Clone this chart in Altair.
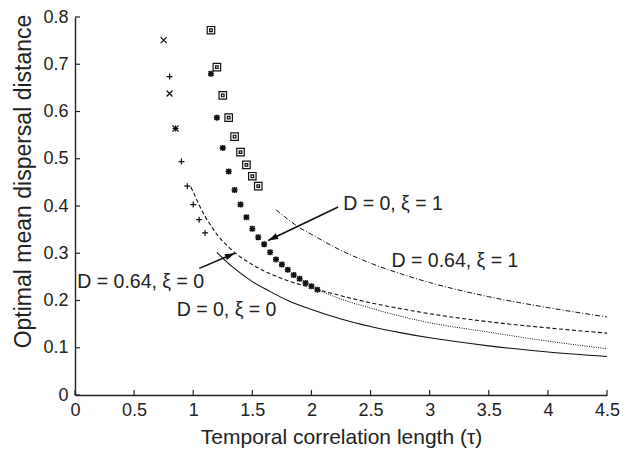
import math
import altair as alt
import pandas as pd

# ---------------- data ----------------
cross_tau = [0.75, 0.80, 0.85]
cross_val = [0.751, 0.638, 0.564]

plus_tau = [0.80, 0.85, 0.90, 0.95, 1.00, 1.05, 1.10]
plus_val = [0.674, 0.564, 0.494, 0.442, 0.403, 0.371, 0.343]

square_tau = [1.15, 1.20, 1.25, 1.30, 1.35, 1.40, 1.45, 1.50, 1.55]
square_val = [0.772, 0.694, 0.634, 0.587, 0.547, 0.514, 0.487, 0.463, 0.442]

star_tau = [1.15, 1.20, 1.25, 1.30, 1.35, 1.40, 1.45, 1.50, 1.55, 1.60,
            1.65, 1.70, 1.75, 1.80, 1.85, 1.90, 1.95, 2.00, 2.05]
star_val = [0.680, 0.587, 0.523, 0.473, 0.434, 0.403, 0.376, 0.352, 0.334, 0.319,
            0.302, 0.287, 0.276, 0.265, 0.254, 0.246, 0.237, 0.230, 0.223]

solid_tau = [1.20, 1.30, 1.40, 1.50, 1.65, 1.80, 2.00, 2.25, 2.50, 2.75, 3.00, 3.50, 4.00, 4.50]
solid_val = [0.302, 0.278, 0.258, 0.240, 0.219, 0.200, 0.181, 0.161, 0.145, 0.132, 0.121, 0.104, 0.091, 0.0815]

dashed_tau = [0.98, 1.00, 1.05, 1.10, 1.15, 1.20, 1.30, 1.40, 1.50, 1.62, 1.80, 2.00, 2.25, 2.50, 2.75, 3.00, 3.50, 4.00, 4.50]
dashed_val = [0.440, 0.430, 0.402, 0.378, 0.358, 0.340, 0.313, 0.292, 0.276, 0.260, 0.242, 0.227, 0.210, 0.195, 0.183, 0.172, 0.155, 0.142, 0.131]

dotted_tau = [2.05, 2.25, 2.50, 2.75, 3.00, 3.50, 4.00, 4.50]
dotted_val = [0.223, 0.203, 0.184, 0.167, 0.153, 0.133, 0.114, 0.098]

dashdot_tau = [1.70, 1.80, 1.90, 2.00, 2.25, 2.50, 2.75, 3.00, 3.50, 4.00, 4.50]
dashdot_val = [0.392, 0.372, 0.354, 0.340, 0.306, 0.279, 0.257, 0.238, 0.208, 0.185, 0.165]

label_text = ["D = 0, ξ = 1", "D = 0.64, ξ = 1", "D = 0.64, ξ = 0", "D = 0, ξ = 0"]
label_tau = [2.268, 2.677, 0.019, 0.860]
label_val = [0.404, 0.283, 0.239, 0.179]

arrow_tau = [2.226, 1.051]
arrow_val = [0.398, 0.268]
arrow_tip_tau = [1.634, 1.352]
arrow_tip_val = [0.327, 0.300]

x_ticks = [0, 0.5, 1, 1.5, 2, 2.5, 3, 3.5, 4, 4.5]
y_ticks = [0, 0.1, 0.2, 0.3, 0.4, 0.5, 0.6, 0.7, 0.8]

# ---------------- styling ----------------
W, H = 532, 378
XMAX, YMAX = 4.5, 0.8
FONT = "Liberation Sans"
INK = "#222222"

xs = alt.Scale(domain=[0, XMAX], nice=False, zero=False)
ys = alt.Scale(domain=[0, YMAX], nice=False, zero=False)

AX = alt.Axis(
    values=x_ticks, format="~g", title="Temporal correlation length (τ)",
    labelPadding=6, labelFlush=False, labelOverlap=False, titleFontSize=21,
    titleX=W / 2, titleY=42, titleBaseline="middle", titleAlign="center")
AY = alt.Axis(
    values=y_ticks, format="~g", title="Optimal mean dispersal distance",
    labelPadding=7, labelOverlap=False, titleFontSize=23,
    titleX=-52, titleY=164, titleBaseline="middle", titleAlign="center", titleAngle=270)


def X(field):
    return alt.X(field, type="quantitative", scale=xs, axis=AX)


def Y(field):
    return alt.Y(field, type="quantitative", scale=ys, axis=AY)


def df(t, v):
    return pd.DataFrame({"tau": t, "val": v})


# inward ticks
xtick_layer = alt.Chart(pd.DataFrame({"tau": x_ticks})).mark_rule(color=INK, strokeWidth=1.2).encode(
    x=X("tau"), y=alt.value(H), y2=alt.value(H - 5))
ytick_layer = alt.Chart(pd.DataFrame({"val": y_ticks})).mark_rule(color=INK, strokeWidth=1.2).encode(
    y=Y("val"), x=alt.value(0), x2=alt.value(5))


def line(t, v, dash=None, width=1.1):
    kw = dict(color="#111111", strokeWidth=width, interpolate="monotone")
    if dash:
        kw["strokeDash"] = dash
    return alt.Chart(df(t, v)).mark_line(**kw).encode(x=X("tau"), y=Y("val"))


solid = line(solid_tau, solid_val)
dashed = line(dashed_tau, dashed_val, [4, 2.5])
dotted = line(dotted_tau, dotted_val, [1, 1.3], 1.0)
dashdot = line(dashdot_tau, dashdot_val, [5, 2, 1, 2], 1.0)

CROSS = "M-1,-1L1,1M-1,1L1,-1"
PLUS = "M-1,0L1,0M0,-1L0,1"
SQUARE = "M-1,-1L1,-1L1,1L-1,1Z M-0.35,-0.35L0.35,-0.35L0.35,0.35L-0.35,0.35Z"
STAR = "M-1,0L1,0M0,-1L0,1M-0.8,-0.8L0.8,0.8M-0.8,0.8L0.8,-0.8"


def markers(t, v, shape, size, sw):
    return alt.Chart(df(t, v)).mark_point(shape=shape, size=size, filled=False,
                                          color="#111111", strokeWidth=sw, opacity=1).encode(
        x=X("tau"), y=Y("val"))


m_cross = markers(cross_tau, cross_val, CROSS, 36, 1.2)
m_plus = markers(plus_tau, plus_val, PLUS, 36, 1.2)
m_square = markers(square_tau, square_val, SQUARE, 56, 1.2)
m_star = markers(star_tau, star_val, STAR, 36, 1.6)

labels = alt.Chart(pd.DataFrame({"tau": label_tau, "val": label_val, "txt": label_text})).mark_text(
    align="left", baseline="middle", font=FONT, fontSize=19.5, color=INK).encode(
    x=X("tau"), y=Y("val"), text="txt:N")

# arrows
adf = pd.DataFrame({"tau": arrow_tau, "val": arrow_val, "tau2": arrow_tip_tau, "val2": arrow_tip_val})
dx = (adf["tau2"] - adf["tau"]) * W / XMAX
dy = -(adf["val2"] - adf["val"]) * H / YMAX
adf["ang"] = [(math.degrees(math.atan2(a, -b)) + 360) % 360 for a, b in zip(dx, dy)]

arrow_lines = alt.Chart(adf).mark_rule(color="#111111", strokeWidth=1.6).encode(
    x=X("tau"), y=Y("val"), x2="tau2", y2="val2")
ARROW = "M0,0L-0.32,1L0.32,1Z"
arrow_heads = alt.Chart(adf).mark_point(shape=ARROW, size=400, filled=True, color="#111111",
                                        opacity=1).encode(
    x=X("tau2"), y=Y("val2"), angle=alt.Angle("ang:Q", scale=None))

chart = alt.layer(
    xtick_layer, ytick_layer, solid, dashed, dotted, dashdot,
    m_cross, m_plus, m_square, m_star, labels, arrow_lines, arrow_heads
).properties(
    width=W, height=H,
    autosize=alt.AutoSizeParams(type="none"),
    padding={"left": 67, "top": 9, "right": 15, "bottom": 59},
).configure_view(stroke=None).configure_axis(
    labelFont=FONT, titleFont=FONT, labelFontSize=18,
    labelColor=INK, titleColor=INK, titleFontWeight="normal",
    domainColor=INK, domainWidth=1.4, ticks=False, tickSize=0, grid=False,
)

chart.save("out.html", embed_options={"renderer": "svg", "actions": False})
